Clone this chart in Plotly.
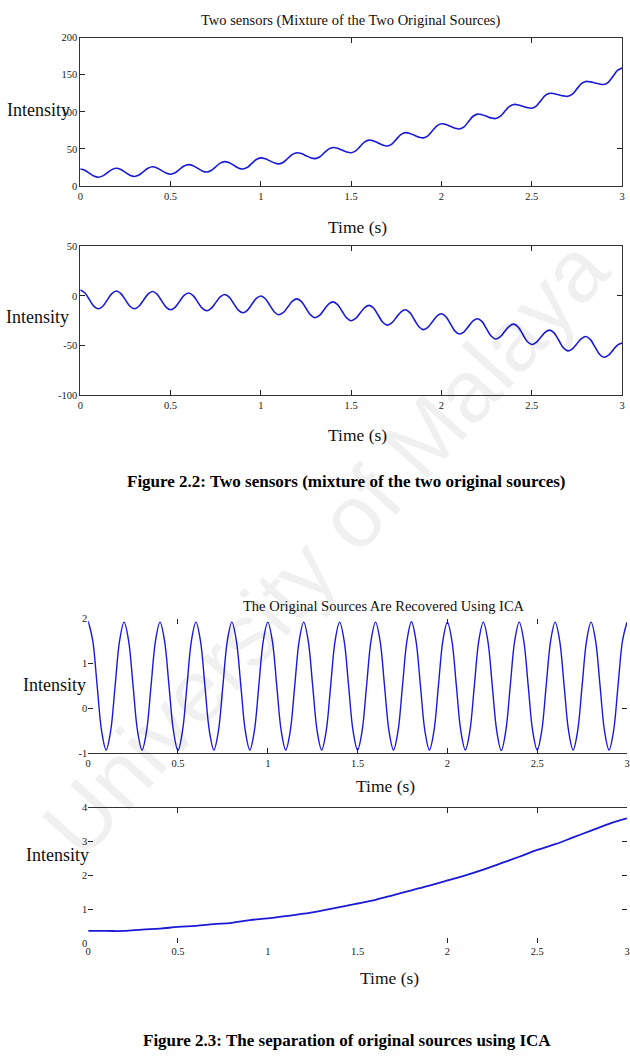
import plotly.graph_objects as go

# ---------------- data ----------------
t_mix = [round(i * 0.025, 3) for i in range(121)]    # time (s), sensor plots
t_ica = [round(i * 0.025, 3) for i in range(121)]    # time (s), recovered sine
t_ramp = [round(i * 0.1, 2) for i in range(31)]      # time (s), recovered ramp

sensor1 = [23, 21.4, 17.5, 13.6, 12, 13.8, 18, 22.2,
           24, 22.4, 18.5, 14.6, 13, 14.9, 19.5, 24.1,
           26, 24.5, 21, 17.5, 16, 17.9, 22.5, 27.1,
           29, 27.5, 24, 20.5, 19, 21, 26, 31,
           33, 31.5, 28, 24.5, 23, 25.2, 30.5, 35.8,
           38, 36.8, 34, 31.2, 30, 32.2, 37.5, 42.8,
           45, 43.8, 41, 38.2, 37, 39.2, 44.5, 49.8,
           52, 51, 48.5, 46, 45, 47.5, 53.5, 59.5,
           62, 60.8, 58, 55.2, 54, 56.6, 63, 69.4,
           72, 71, 68.5, 66, 65, 67.8, 74.5, 81.2,
           84, 83, 80.5, 78, 77, 79.9, 87, 94.1,
           97, 96.1, 94, 91.9, 91, 93.8, 100.5, 107.2,
           110, 109.3, 107.5, 105.7, 105, 107.9, 115, 122.1,
           125, 124.4, 123, 121.6, 121, 123.9, 131, 138.1,
           141, 140.4, 139, 137.6, 137, 140.2, 148, 155.8,
           159]

sensor2 = [6, 3.2, -3.5, -10.2, -13, -10.4, -4, 2.4,
           5, 2.4, -4, -10.4, -13, -10.4, -4.25, 1.9,
           4.5, 1.8, -4.75, -11.3, -14, -11.5, -5.5, 0.5,
           3, 0.4, -6, -12.4, -15, -12.6, -6.75, -0.9,
           1.5, -1.2, -7.75, -14.3, -17, -14.5, -8.5, -2.5,
           0, -2.8, -9.5, -16.2, -19, -16.7, -11, -5.3,
           -3, -5.8, -12.5, -19.2, -22, -19.7, -14, -8.3,
           -6, -8.8, -15.5, -22.2, -25, -22.7, -17.25, -11.8,
           -9.5, -12.4, -19.5, -26.6, -29.5, -27.2, -21.75, -16.3,
           -14, -16.9, -24, -31.1, -34, -31.7, -26, -20.3,
           -18, -21, -28.25, -35.5, -38.5, -36.2, -30.75, -25.3,
           -23, -26, -33.25, -40.5, -43.5, -41.3, -36, -30.7,
           -28.5, -31.5, -38.75, -46, -49, -46.9, -41.75, -36.6,
           -34.5, -37.6, -45, -52.4, -55.5, -53.4, -48.25, -43.1,
           -41, -44.1, -51.5, -58.9, -62, -59.9, -54.75, -49.6,
           -47.5]

recovered_sine = [
    1.94, 1.52, 0.50, -0.51, -0.93, -0.51, 0.50, 1.51,
    1.92, 1.51, 0.50, -0.51, -0.93, -0.51, 0.50, 1.51,
    1.92, 1.51, 0.50, -0.51, -0.94, -0.51, 0.50, 1.51,
    1.92, 1.51, 0.50, -0.51, -0.93, -0.51, 0.50, 1.51,
    1.92, 1.51, 0.50, -0.51, -0.93, -0.51, 0.50, 1.51,
    1.92, 1.51, 0.50, -0.51, -0.93, -0.51, 0.50, 1.51,
    1.92, 1.51, 0.50, -0.51, -0.93, -0.51, 0.50, 1.51,
    1.92, 1.51, 0.50, -0.51, -0.93, -0.51, 0.50, 1.51,
    1.92, 1.51, 0.50, -0.51, -0.93, -0.51, 0.50, 1.51,
    1.93, 1.51, 0.50, -0.51, -0.93, -0.51, 0.50, 1.51,
    1.92, 1.51, 0.50, -0.51, -0.93, -0.51, 0.50, 1.51,
    1.92, 1.51, 0.50, -0.51, -0.94, -0.51, 0.50, 1.51,
    1.92, 1.51, 0.50, -0.51, -0.93, -0.51, 0.50, 1.51,
    1.92, 1.51, 0.50, -0.51, -0.93, -0.51, 0.50, 1.51,
    1.92, 1.51, 0.50, -0.51, -0.93, -0.51, 0.50, 1.51,
    1.92]

recovered_ramp = [0.36, 0.36, 0.36, 0.40, 0.43, 0.48, 0.51, 0.56, 0.60, 0.68,
                  0.73, 0.80, 0.87, 0.96, 1.06, 1.17, 1.28, 1.42, 1.56, 1.70,
                  1.85, 2.00, 2.17, 2.36, 2.55, 2.75, 2.92, 3.12, 3.32, 3.52,
                  3.68]

x_ticks = [0, 0.5, 1, 1.5, 2, 2.5, 3]
x_ticklabels = ["0", "0.5", "1", "1.5", "2", "2.5", "3"]
y1_ticks = [0, 50, 100, 150, 200]
y1_labels = ["0", "50", "100", "150", "200"]
y2_ticks = [-100, -50, 0, 50]
y2_labels = ["-100", "-50", "0", "50"]
y3_ticks = [-1, 0, 1, 2]
y3_labels = ["-1", "0", "1", "2"]
y4_ticks = [0, 1, 2, 3, 4]
y4_labels = ["0", "1", "2", "3", "4"]

# ticks still visible on the opposite sides of the scanned frames
top1_ticks = [1.5, 2.5]
right1_ticks = [50, 200]
top2_ticks = [1.5, 2.5]
right2_ticks = [0]
top3_ticks = [0.5, 2, 2.5]
right3_ticks = [0]
top4_ticks = [0.5, 2, 2.5]
bottom4_ticks = [0.5, 2, 2.5]
right4_ticks = [1, 2, 3]

title_top = "Two sensors (Mixture of the Two Original Sources)"
title_bottom = "The Original Sources Are Recovered Using ICA"
caption_top = "Figure 2.2: Two sensors (mixture of the two original sources)"
caption_bottom = "Figure 2.3: The separation of original sources using ICA"
y_label = "Intensity"
x_label = "Time (s)"
watermark = "University of Malaya"

# ---------------- figure ----------------
W, H = 630, 1060
LINE = "#1a1ad6"
SERIF = "Liberation Serif"
TICKFONT = dict(family=SERIF, size=10.5, color="#1a1a1a")


def px(x):
    return x / W


def py(y):
    return 1 - y / H


fig = go.Figure()
fig.add_trace(go.Scatter(x=t_mix, y=sensor1, mode="lines", xaxis="x", yaxis="y",
                         line=dict(color=LINE, width=1.6, shape="spline", smoothing=1)))
fig.add_trace(go.Scatter(x=t_mix, y=sensor2, mode="lines", xaxis="x2", yaxis="y2",
                         line=dict(color=LINE, width=1.6, shape="spline", smoothing=1)))
fig.add_trace(go.Scatter(x=t_ica, y=recovered_sine, mode="lines", xaxis="x3", yaxis="y3",
                         line=dict(color=LINE, width=1.4, shape="spline", smoothing=1)))
fig.add_trace(go.Scatter(x=t_ramp, y=recovered_ramp, mode="lines", xaxis="x4", yaxis="y4",
                         line=dict(color=LINE, width=1.8, shape="spline", smoothing=1)))

# empty helper traces so that the overlay (mirror-tick) axes get drawn
for xa, ya in [("x5", "y"), ("x", "y5"), ("x6", "y2"), ("x2", "y6"),
               ("x7", "y3"), ("x3", "y7"), ("x8", "y4"), ("x4", "y8"), ("x9", "y4")]:
    fig.add_trace(go.Scatter(x=[], y=[], mode="lines", xaxis=xa, yaxis=ya,
                             hoverinfo="skip", showlegend=False))


def xax(domain, anchor, showline=True, mirror=False, ticks="inside"):
    return dict(domain=domain, anchor=anchor, range=[0, 3], tickmode="array",
                tickvals=x_ticks, ticktext=x_ticklabels, ticks=ticks, ticklen=5,
                tickcolor="#222", tickwidth=1, showline=showline, linecolor="#333",
                linewidth=1, mirror=mirror, showgrid=False, zeroline=False,
                tickfont=TICKFONT, fixedrange=True)


def yax(domain, anchor, rng, tv, tt, showline=True, mirror=False):
    return dict(domain=domain, anchor=anchor, range=rng, tickmode="array",
                tickvals=tv, ticktext=tt, ticks="inside", ticklen=5, tickcolor="#222",
                tickwidth=1, showline=showline, linecolor="#333", linewidth=1,
                mirror=mirror, showgrid=False, zeroline=False, tickfont=TICKFONT,
                fixedrange=True)


def xover(over, anchor, tv, side="top", showline=False):
    return dict(overlaying=over, anchor=anchor, side=side, range=[0, 3],
                tickmode="array", tickvals=tv, ticks="inside", ticklen=5,
                tickcolor="#222", showticklabels=False, showline=showline,
                linecolor="#333", linewidth=1, showgrid=False, zeroline=False,
                fixedrange=True)


def yover(over, anchor, rng, tv):
    return dict(overlaying=over, anchor=anchor, side="right", range=rng,
                tickmode="array", tickvals=tv, ticks="inside", ticklen=5,
                tickcolor="#222", showticklabels=False, showline=False,
                showgrid=False, zeroline=False, fixedrange=True)


xd12 = [px(78), px(625)]
xd34 = [px(86), 1.0]
yd1 = [py(183), py(33)]
yd2 = [py(394), py(244)]
yd3 = [py(756), py(620)]
yd4 = [py(948), py(811)]

fig.update_layout(
    width=W, height=H, margin=dict(l=0, r=0, t=0, b=0),
    paper_bgcolor="white", plot_bgcolor="rgba(0,0,0,0)", showlegend=False,
    xaxis=xax(xd12, "y", mirror=True),
    yaxis=yax(yd1, "x", [0, 200], y1_ticks, y1_labels, mirror=True),
    xaxis2=xax(xd12, "y2", mirror=True),
    yaxis2=yax(yd2, "x2", [-100, 50], y2_ticks, y2_labels, mirror=True),
    xaxis3=xax(xd34, "y3"),
    yaxis3=yax(yd3, "x3", [-1, 2], y3_ticks, y3_labels, showline=False),
    xaxis4=xax(xd34, "y4", showline=False, ticks=""),
    yaxis4=yax(yd4, "x4", [0, 4], y4_ticks, y4_labels, showline=False),
    xaxis5=xover("x", "y", top1_ticks),
    yaxis5=yover("y", "x", [0, 200], right1_ticks),
    xaxis6=xover("x2", "y2", top2_ticks),
    yaxis6=yover("y2", "x2", [-100, 50], right2_ticks),
    xaxis7=xover("x3", "y3", top3_ticks),
    yaxis7=yover("y3", "x3", [-1, 2], right3_ticks),
    xaxis8=xover("x4", "y4", top4_ticks, showline=True),
    yaxis8=yover("y4", "x4", [0, 4], right4_ticks),
    xaxis9=xover("x4", "y4", bottom4_ticks, side="bottom"),
)


def note(text, x, y, size, bold=False, family=SERIF, color="#111"):
    fig.add_annotation(text=f"<b>{text}</b>" if bold else text, xref="paper", yref="paper",
                       x=px(x), y=py(y), xanchor="center", yanchor="middle",
                       showarrow=False, font=dict(family=family, size=size, color=color))


# watermark (very faint)
fig.add_annotation(text=watermark, xref="paper", yref="paper", x=px(325), y=py(548),
                   xanchor="center", yanchor="middle", showarrow=False, textangle=-48,
                   font=dict(family="Liberation Sans", size=88, color="rgba(0,0,0,0.06)"))

note(title_top, 351, 16, 14.5)
note(y_label, 36, 106, 18)
note(x_label, 358, 224, 17.5)
note(y_label, 35, 315, 18)
note(x_label, 358, 435, 17.5)
note(caption_top, 347, 482, 17, bold=True, color="#000")
note(title_bottom, 385, 607, 14.5)
note(y_label, 52, 687, 18)
note(x_label, 386, 789, 17.5)
note(y_label, 55, 859, 18)
note(x_label, 390, 983, 17.5)
note(caption_bottom, 347, 1046, 17, bold=True, color="#000")

fig.write_html("out.html")
